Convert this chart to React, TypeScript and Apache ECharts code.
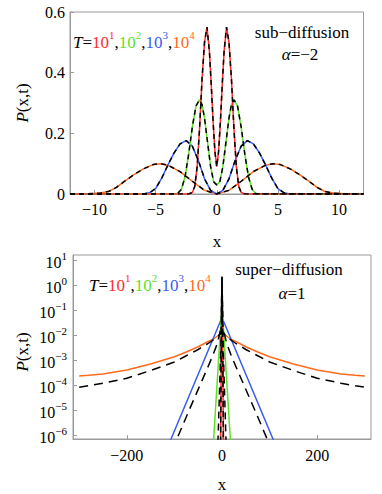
import React, { useEffect, useRef } from 'react';
import * as echarts from 'echarts';

// ---------- tick values ----------
const TOP_X_TICKS = [-10, -5, 0, 5, 10];
const TOP_Y_TICKS = [0, 0.2, 0.4, 0.6];
const BOT_X_TICKS = [-200, 0, 200];
const BOT_Y_EXPONENTS = [-6, -5, -4, -3, -2, -1, 0, 1];

// ---------- top panel: sub-diffusion, P(x,t) ----------
const redX = [-12, -2.3, -2.0, -1.8, -1.6, -1.4, -1.2, -1.0, -0.8, -0.6, -0.45, -0.3, -0.15, 0, 0.15, 0.3, 0.45, 0.6, 0.8, 1.0, 1.2, 1.4, 1.6, 1.8, 2.0, 2.3, 12];
const redP = [0, 0, 0.005, 0.025, 0.09, 0.22, 0.38, 0.5, 0.55, 0.47, 0.36, 0.24, 0.14, 0.09, 0.14, 0.24, 0.36, 0.47, 0.55, 0.5, 0.38, 0.22, 0.09, 0.025, 0.005, 0, 0];

const greenX = [-12, -3.5, -3.2, -2.9, -2.6, -2.3, -2.0, -1.7, -1.42, -1.2, -1.0, -0.75, -0.5, -0.25, 0, 0.25, 0.5, 0.75, 1.0, 1.2, 1.42, 1.7, 2.0, 2.3, 2.6, 2.9, 3.2, 3.5, 12];
const greenP = [0, 0, 0.002, 0.015, 0.055, 0.13, 0.22, 0.29, 0.31, 0.295, 0.25, 0.17, 0.09, 0.04, 0.03, 0.04, 0.09, 0.17, 0.25, 0.295, 0.31, 0.29, 0.22, 0.13, 0.055, 0.015, 0.002, 0, 0];

const blueX = [-12, -6.0, -5.5, -5.0, -4.5, -4.0, -3.5, -3.0, -2.5, -2.0, -1.5, -1.0, -0.5, 0, 0.5, 1.0, 1.5, 2.0, 2.5, 3.0, 3.5, 4.0, 4.5, 5.0, 5.5, 6.0, 12];
const blueP = [0, 0, 0.004, 0.018, 0.052, 0.095, 0.135, 0.165, 0.176, 0.158, 0.11, 0.05, 0.012, 0, 0.012, 0.05, 0.11, 0.158, 0.176, 0.165, 0.135, 0.095, 0.052, 0.018, 0.004, 0, 0];

const orangeX = [-12, -10.5, -9.5, -8.8, -8.2, -7.5, -6.8, -6.0, -5.2, -4.6, -4.0, -3.0, -2.0, -1.0, 0, 1.0, 2.0, 3.0, 4.0, 4.6, 5.2, 6.0, 6.8, 7.5, 8.2, 8.8, 9.5, 10.5, 12];
const orangeP = [0, 0.0005, 0.003, 0.009, 0.022, 0.043, 0.063, 0.083, 0.097, 0.1, 0.095, 0.074, 0.042, 0.012, 0, 0.012, 0.042, 0.074, 0.095, 0.1, 0.097, 0.083, 0.063, 0.043, 0.022, 0.009, 0.003, 0.0005, 0];

// ---------- bottom panel: super-diffusion, log10 P(x,t) ----------
const orangeBX = [-300, -280, -250, -200, -150, -100, -75, -50, -40, -30, -20, -10, -5, 0, 5, 10, 20, 30, 40, 50, 75, 100, 150, 200, 250, 280, 300];
const orangeBL = [-3.64, -3.61, -3.56, -3.4, -3.16, -2.87, -2.68, -2.47, -2.37, -2.27, -2.18, -2.05, -1.97, -1.88, -1.97, -2.05, -2.18, -2.27, -2.37, -2.47, -2.68, -2.87, -3.16, -3.4, -3.56, -3.61, -3.64];
const orangeDashL = [-4.09, -4.03, -3.93, -3.73, -3.42, -3.08, -2.83, -2.58, -2.46, -2.35, -2.22, -2.07, -1.98, -1.9, -1.98, -2.07, -2.22, -2.35, -2.46, -2.58, -2.83, -3.08, -3.42, -3.73, -3.93, -4.03, -4.09];

const blueBX = [-115, 0, 115];
const blueBL = [-6.52, -1.3, -6.52];
const blueDashX = [-105, -95, -70, -46, -30, -20, -10, -5, 0, 5, 10, 20, 30, 46, 70, 95, 105];
const blueDashL = [-6.6, -6.17, -5.05, -4.0, -3.3, -2.85, -2.35, -1.95, -1.45, -1.95, -2.35, -2.85, -3.3, -4.0, -5.05, -6.17, -6.6];

const greenBX = [-18, 0, 18];
const greenBL = [-6.3, -0.8, -6.3];
const greenDashX = [-8.5, 0, 8.5];
const greenDashL = [-6.3, -0.9, -6.3];

const redBX = [-3.2, 0, 3.2];
const redBL = [-6.3, -0.4, -6.3];
const redDashX = [-2.8, -1.4, 0, 1.4, 2.8];
const redDashL = [-6.3, -1.3, 0.33, -1.3, -6.3];
const spikeX = [-1.4, 0, 1.4];
const spikeL = [-1.3, 0.33, -1.3];

const C = { red: '#ff2b2b', green: '#5ee02a', blue: '#3a5cf0', orange: '#ff6a1c', frame: '#9a9a9a' };
const FONT = 'Liberation Serif';

const pairs = (xs: number[], ys: number[]) => xs.map((x, i) => [x, ys[i]]);
const minus = (v: number) => (v < 0 ? '\u2212' + Math.abs(v) : String(v));

const lineSeries = (xi: number, yi: number, xs: number[], ys: number[], color: string, dash: number[] | null, z: number) => ({
  type: 'line',
  xAxisIndex: xi,
  yAxisIndex: yi,
  data: pairs(xs, ys),
  showSymbol: false,
  symbol: 'none',
  clip: true,
  z,
  lineStyle: { color, width: 1.5, type: dash ? dash : 'solid' },
});

const tok = (fill: string, size = 17, italic = false, va = 'bottom') => ({
  fontFamily: FONT, fontSize: size, fontStyle: italic ? 'italic' : 'normal', fill, lineHeight: 22, verticalAlign: va,
});
const annRich = {
  i: tok('#000', 17, true),
  n: tok('#000'),
  r: tok(C.red),
  g: tok(C.green),
  b: tok(C.blue),
  o: tok(C.orange),
  rs: tok(C.red, 11, false, 'top'),
  gs: tok(C.green, 11, false, 'top'),
  bs: tok(C.blue, 11, false, 'top'),
  os: tok(C.orange, 11, false, 'top'),
};
const annText = '{i|T}{n|=}{r|10}{rs|1}{n|,}{g|10}{gs|2}{n|,}{b|10}{bs|3}{n|,}{o|10}{os|4}';

const pRich = {
  i: { fontFamily: FONT, fontSize: 17, fontStyle: 'italic', fill: '#000' },
  n: { fontFamily: FONT, fontSize: 17, fill: '#000' },
};

const plainText = (x: number, y: number, text: string) => ({
  type: 'text', x, y,
  style: { text, fontFamily: FONT, fontSize: 17, fill: '#000', align: 'center', verticalAlign: 'middle' },
});
const richText = (x: number, y: number, text: string, rich: any, align = 'center', rotation = 0) => ({
  type: 'text', x, y, rotation,
  style: { text, rich, align, verticalAlign: 'middle', fontFamily: FONT, fontSize: 17, fill: '#000' },
});

export default function App() {
  const ref = useRef<HTMLDivElement>(null);
  useEffect(() => {
    if (!ref.current) return;
    const chart = echarts.init(ref.current, undefined, { renderer: 'svg' });
    const axisLine = { show: true, onZero: false, lineStyle: { color: C.frame, width: 1 } };
    const tick = (vals: number[]) => ({ show: true, inside: true, length: 4, customValues: vals, lineStyle: { color: C.frame } });
    const lbl = { fontFamily: FONT, fontSize: 16, color: '#000' };
    const option: any = {
      animation: false,
      backgroundColor: '#fff',
      grid: [
        { left: 70, top: 12, width: 293.5, height: 182, show: true, borderColor: C.frame, borderWidth: 1 },
        { left: 73, top: 255, width: 298, height: 184, show: true, borderColor: C.frame, borderWidth: 1 },
      ],
      xAxis: [
        {
          type: 'value', gridIndex: 0, min: -12, max: 12, axisLine, splitLine: { show: false },
          axisTick: tick(TOP_X_TICKS),
          axisLabel: { ...lbl, customValues: TOP_X_TICKS, formatter: (v: number) => minus(v), margin: 7 },
        },
        {
          type: 'value', gridIndex: 1, min: -313, max: 313, axisLine, splitLine: { show: false },
          axisTick: tick(BOT_X_TICKS),
          axisLabel: { ...lbl, customValues: BOT_X_TICKS, formatter: (v: number) => minus(v), margin: 8 },
        },
      ],
      yAxis: [
        {
          type: 'value', gridIndex: 0, min: 0, max: 0.6, axisLine, splitLine: { show: false },
          axisTick: tick(TOP_Y_TICKS),
          axisLabel: { ...lbl, customValues: TOP_Y_TICKS, formatter: (v: number) => (v === 0 ? '0' : v.toFixed(1)), margin: 5 },
        },
        {
          type: 'value', gridIndex: 1, min: -6.16, max: 1.2, axisLine, splitLine: { show: false },
          axisTick: tick(BOT_Y_EXPONENTS),
          axisLabel: {
            customValues: BOT_Y_EXPONENTS,
            formatter: (v: number) => `{b|10}{s|${minus(Math.round(v))}}`,
            margin: 6,
            rich: {
              b: { fontFamily: FONT, fontSize: 16, color: '#000', lineHeight: 20, verticalAlign: 'bottom' },
              s: { fontFamily: FONT, fontSize: 11, color: '#000', lineHeight: 20, verticalAlign: 'top' },
            },
          },
        },
      ],
      series: [
        lineSeries(0, 0, orangeX, orangeP, C.orange, null, 2),
        lineSeries(0, 0, blueX, blueP, C.blue, null, 2),
        lineSeries(0, 0, greenX, greenP, C.green, null, 2),
        lineSeries(0, 0, redX, redP, C.red, null, 2),
        lineSeries(0, 0, orangeX, orangeP, '#000', [5, 4], 3),
        lineSeries(0, 0, blueX, blueP, '#000', [5, 4], 3),
        lineSeries(0, 0, greenX, greenP, '#000', [5, 4], 3),
        lineSeries(0, 0, redX, redP, '#000', [5, 4], 3),

        lineSeries(1, 1, orangeBX, orangeBL, C.orange, null, 2),
        lineSeries(1, 1, blueBX, blueBL, C.blue, null, 2),
        lineSeries(1, 1, greenBX, greenBL, C.green, null, 2),
        lineSeries(1, 1, redBX, redBL, C.red, null, 2),
        lineSeries(1, 1, orangeBX, orangeDashL, '#000', [9, 6], 3),
        lineSeries(1, 1, blueDashX, blueDashL, '#000', [9, 6], 3),
        lineSeries(1, 1, greenDashX, greenDashL, '#000', [7, 5], 3),
        lineSeries(1, 1, redDashX, redDashL, '#000', [6, 4], 3),
        lineSeries(1, 1, spikeX, spikeL, '#000', null, 4),
      ],
      graphic: [
        richText(73, 40, annText, annRich, 'left'),
        plainText(302, 32, 'sub\u2212diffusion'),
        richText(300, 54, '{i|\u03b1}{n|=\u22122}', pRich),
        richText(22, 103, '{i|P}{n|(x,t)}', pRich, 'center', Math.PI / 2),
        plainText(217, 241, 'x'),
        richText(89, 283, annText, annRich, 'left'),
        plainText(289, 269, 'super\u2212diffusion'),
        richText(292, 293, '{i|\u03b1}{n|=1}', pRich),
        richText(22, 352, '{i|P}{n|(x,t)}', pRich, 'center', Math.PI / 2),
        plainText(222, 484, 'x'),
      ],
    };
    chart.setOption(option);
    return () => chart.dispose();
  }, []);
  return <div ref={ref} style={{ position: 'fixed', left: 0, top: 0, width: 382, height: 494, background: '#fff' }} />;
}
